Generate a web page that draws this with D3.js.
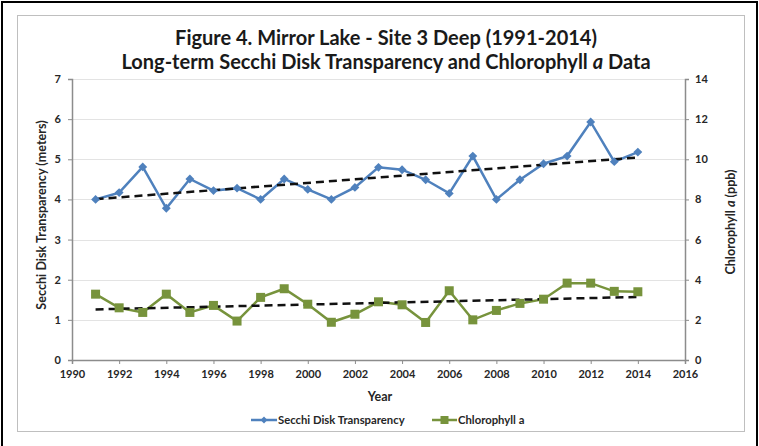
<!DOCTYPE html>
<html>
<head>
<meta charset="utf-8">
<script src="https://cdn.jsdelivr.net/npm/d3@7"></script>
<style>
  html, body { margin: 0; padding: 0; background: #fff; }
  svg { display: block; font-family: Lato, "Open Sans", sans-serif; }
</style>
</head>
<body>
<div id="chart"></div>
<script>
// data
const years = d3.range(1991, 2015);
const secchi = [4.0, 4.17, 4.81, 3.78, 4.51, 4.22, 4.28, 4.0, 4.51, 4.25, 4.0, 4.3,
                4.8, 4.74, 4.49, 4.15, 5.08, 4.0, 4.49, 4.89, 5.08, 5.93, 4.94, 5.18];
const chlorophyll = [3.28, 2.6, 2.37, 3.28, 2.37, 2.72, 1.94, 3.12, 3.55, 2.78, 1.88, 2.28,
                     2.9, 2.75, 1.87, 3.45, 2.0, 2.47, 2.82, 3.03, 3.83, 3.83, 3.42, 3.4];
const xTicks = d3.range(1990, 2017, 2);
const leftTicks = d3.range(0, 8, 1);
const rightTicks = d3.range(0, 15, 2);

const W = 759, H = 446;
const blue = "#4f81bd", green = "#77933c", axisCol = "#8c8c8c";

const svg = d3.select("#chart").append("svg")
  .attr("width", W).attr("height", H);

// outer frames
svg.append("rect").attr("x", 2).attr("y", 2).attr("width", W - 4).attr("height", H)
  .attr("fill", "none").attr("stroke", "#000").attr("stroke-width", 2);
svg.append("rect").attr("x", 17.5).attr("y", 15.5).attr("width", 727).attr("height", 416)
  .attr("fill", "none").attr("stroke", "#bfbfbf").attr("stroke-width", 1);

// titles
svg.append("text").attr("x", 386).attr("y", 45).attr("text-anchor", "middle")
  .attr("font-size", 20).attr("font-weight", "bold").attr("fill", "#1a1a1a")
  .text("Figure 4. Mirror Lake - Site 3 Deep (1991-2014)");
const t2 = svg.append("text").attr("x", 386).attr("y", 69).attr("text-anchor", "middle")
  .attr("font-size", 20).attr("font-weight", "bold").attr("fill", "#1a1a1a");
t2.append("tspan").text("Long-term Secchi Disk Transparency and Chlorophyll ");
t2.append("tspan").attr("font-style", "italic").text("a");
t2.append("tspan").text(" Data");

const x = d3.scaleLinear().domain([1990, 2016]).range([72, 685]);
const yL = d3.scaleLinear().domain([0, 7]).range([360, 79]);
const yR = d3.scaleLinear().domain([0, 14]).range([360, 79]);

// gridlines
svg.append("g").selectAll("line").data(leftTicks.filter(d => d > 0)).join("line")
  .attr("x1", x(1990)).attr("x2", x(2016))
  .attr("y1", d => Math.round(yL(d)) + 0.5).attr("y2", d => Math.round(yL(d)) + 0.5)
  .attr("stroke", "#e3e3e3");

// axes
function styleAxis(g) {
  g.select(".domain").attr("stroke", axisCol).attr("stroke-width", 1.5);
  g.selectAll(".tick line").attr("stroke", axisCol);
  g.selectAll(".tick text").attr("fill", "#262626").attr("font-size", 11)
    .attr("font-weight", "bold").attr("font-family", "Lato, sans-serif");
}
svg.append("g").attr("transform", "translate(0,360)")
  .call(d3.axisBottom(x).tickValues(xTicks).tickFormat(d3.format("d")).tickSizeOuter(0).tickSize(4).tickPadding(6))
  .call(styleAxis);
svg.append("g").attr("transform", "translate(72,0)")
  .call(d3.axisLeft(yL).tickValues(leftTicks).tickFormat(d3.format("d")).tickSizeOuter(0).tickSize(4).tickPadding(7))
  .call(styleAxis);
svg.append("g").attr("transform", "translate(685,0)")
  .call(d3.axisRight(yR).tickValues(rightTicks).tickFormat(d3.format("d")).tickSizeOuter(0).tickSize(4).tickPadding(6))
  .call(styleAxis);

// axis titles
svg.append("text").attr("transform", "translate(46,215) rotate(-90)")
  .attr("text-anchor", "middle").attr("font-size", 12.6).attr("font-weight", "bold")
  .attr("fill", "#262626").text("Secchi Disk Transparency (meters)");
const rt = svg.append("text").attr("transform", "translate(735,222) rotate(-90)")
  .attr("text-anchor", "middle").attr("font-size", 12.6).attr("font-weight", "bold")
  .attr("fill", "#262626");
rt.append("tspan").text("Chlorophyll ");
rt.append("tspan").attr("font-style", "italic").text("a");
rt.append("tspan").text(" (ppb)");
svg.append("text").attr("x", 380).attr("y", 401).attr("text-anchor", "middle")
  .attr("font-size", 12.5).attr("font-weight", "bold").attr("fill", "#262626").text("Year");

// series lines
const secchiPts = years.map((yr, i) => [yr, secchi[i]]);
const chlPts = years.map((yr, i) => [yr, chlorophyll[i]]);

svg.append("path").datum(secchiPts)
  .attr("fill", "none").attr("stroke", blue).attr("stroke-width", 2.5)
  .attr("d", d3.line().x(d => x(d[0])).y(d => yL(d[1])));
svg.append("path").datum(chlPts)
  .attr("fill", "none").attr("stroke", green).attr("stroke-width", 2.5)
  .attr("d", d3.line().x(d => x(d[0])).y(d => yR(d[1])));

// linear trendlines (least squares)
function fit(pts) {
  const mx = d3.mean(pts, d => d[0]), my = d3.mean(pts, d => d[1]);
  const b = d3.sum(pts, d => (d[0] - mx) * (d[1] - my)) / d3.sum(pts, d => (d[0] - mx) ** 2);
  return t => my + b * (t - mx);
}
const fS = fit(secchiPts), fC = fit(chlPts);
const ends = [years[0], years[years.length - 1]];
svg.append("line")
  .attr("x1", x(ends[0])).attr("y1", yL(fS(ends[0])))
  .attr("x2", x(ends[1])).attr("y2", yL(fS(ends[1])))
  .attr("stroke", "#111").attr("stroke-width", 2.5).attr("stroke-dasharray", "8,5");
svg.append("line")
  .attr("x1", x(ends[0])).attr("y1", yR(fC(ends[0])))
  .attr("x2", x(ends[1])).attr("y2", yR(fC(ends[1])))
  .attr("stroke", "#111").attr("stroke-width", 2.5).attr("stroke-dasharray", "8,5");

// markers
const diamond = d3.symbol().type(d3.symbolDiamond2).size(50);
svg.append("g").selectAll("path").data(secchiPts).join("path")
  .attr("transform", d => `translate(${x(d[0])},${yL(d[1])})`)
  .attr("d", diamond).attr("fill", blue);
svg.append("g").selectAll("rect").data(chlPts).join("rect")
  .attr("x", d => x(d[0]) - 4.5).attr("y", d => yR(d[1]) - 4.5)
  .attr("width", 9).attr("height", 9).attr("fill", green);

// legend
const lg = svg.append("g");
lg.append("line").attr("x1", 251).attr("x2", 277).attr("y1", 420).attr("y2", 420)
  .attr("stroke", blue).attr("stroke-width", 2.5);
lg.append("path").attr("transform", "translate(264,420)").attr("d", d3.symbol().type(d3.symbolDiamond2).size(30)).attr("fill", blue);
lg.append("text").attr("x", 278).attr("y", 424).attr("font-size", 11.3).attr("font-weight", "bold")
  .attr("fill", "#262626").text("Secchi Disk Transparency");
lg.append("line").attr("x1", 432).attr("x2", 457).attr("y1", 420).attr("y2", 420)
  .attr("stroke", green).attr("stroke-width", 2.5);
lg.append("rect").attr("x", 440.5).attr("y", 416).attr("width", 8).attr("height", 8).attr("fill", green);
lg.append("text").attr("x", 458).attr("y", 424).attr("font-size", 11.3).attr("font-weight", "bold")
  .attr("fill", "#262626").text("Chlorophyll a");
</script>
</body>
</html>
